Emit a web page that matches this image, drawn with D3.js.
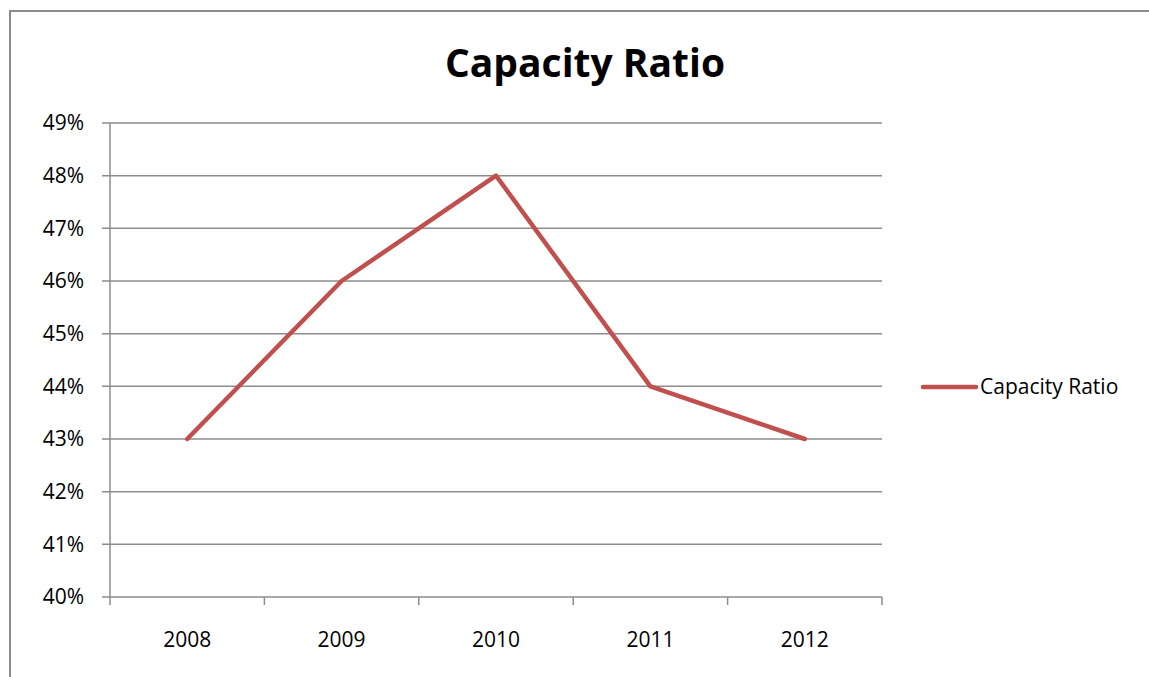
<!DOCTYPE html>
<html>
<head>
<meta charset="utf-8">
<script src="https://cdn.jsdelivr.net/npm/d3@7"></script>
<style>
  body { margin: 0; background: #fff; }
  svg { display: block; font-family: "Open Sans", "Noto Sans", sans-serif; }
</style>
</head>
<body>
<svg id="chart" width="1149" height="677"></svg>
<script>
var years = ["2008", "2009", "2010", "2011", "2012"];
var ratio = [0.43, 0.46, 0.48, 0.44, 0.43];
var yTicks = [0.40, 0.41, 0.42, 0.43, 0.44, 0.45, 0.46, 0.47, 0.48, 0.49];
var seriesName = "Capacity Ratio";
var title = "Capacity Ratio";

var svg = d3.select("#chart");

// outer chart border (only left/top visible in the frame)
svg.append("rect")
   .attr("x", 10).attr("y", 11)
   .attr("width", 1200).attr("height", 800)
   .attr("fill", "none")
   .attr("stroke", "#8c8c8c")
   .attr("stroke-width", 2);

var plotLeft = 110, plotRight = 882, plotTop = 123, plotBottom = 597;

var x = d3.scaleBand().domain(years).range([plotLeft, plotRight]);
var y = d3.scaleLinear().domain([0.40, 0.49]).range([plotBottom, plotTop]);

// gridlines
svg.append("g")
   .selectAll("line")
   .data(yTicks)
   .enter()
   .append("line")
   .attr("x1", plotLeft - 8).attr("x2", plotRight)
   .attr("y1", function(d) { return y(d); })
   .attr("y2", function(d) { return y(d); })
   .attr("stroke", "#8c8c8c")
   .attr("stroke-width", 1.5);

// y axis line
svg.append("line")
   .attr("x1", plotLeft).attr("x2", plotLeft)
   .attr("y1", plotTop).attr("y2", plotBottom)
   .attr("stroke", "#8c8c8c")
   .attr("stroke-width", 1.5);

// x tick marks at band boundaries
var bounds = years.map(function(d) { return x(d); }).concat([plotRight]);
svg.append("g")
   .selectAll("line")
   .data(bounds)
   .enter()
   .append("line")
   .attr("x1", function(d) { return d; })
   .attr("x2", function(d) { return d; })
   .attr("y1", plotBottom).attr("y2", plotBottom + 8)
   .attr("stroke", "#8c8c8c")
   .attr("stroke-width", 1.5);

// y labels
svg.append("g")
   .selectAll("text")
   .data(yTicks)
   .enter()
   .append("text")
   .attr("x", 84)
   .attr("y", function(d) { return y(d); })
   .attr("dy", "0.35em")
   .attr("text-anchor", "end")
   .attr("font-size", 21)
   .attr("fill", "#000")
   .text(function(d) { return Math.round(d * 100) + "%"; });

// x labels
svg.append("g")
   .selectAll("text")
   .data(years)
   .enter()
   .append("text")
   .attr("x", function(d) { return x(d) + x.bandwidth() / 2; })
   .attr("y", 647)
   .attr("text-anchor", "middle")
   .attr("font-size", 21)
   .attr("fill", "#000")
   .text(function(d) { return d; });

// series line
var makeLine = d3.line()
   .x(function(d, i) { return x(years[i]) + x.bandwidth() / 2; })
   .y(function(d) { return y(d); });

svg.append("path")
   .datum(ratio)
   .attr("fill", "none")
   .attr("stroke", "#c0504d")
   .attr("stroke-width", 4.5)
   .attr("stroke-linejoin", "round")
   .attr("stroke-linecap", "round")
   .attr("d", makeLine);

// title
svg.append("text")
   .attr("x", 585).attr("y", 77)
   .attr("text-anchor", "middle")
   .attr("font-size", 39)
   .attr("font-weight", "bold")
   .text(title);

// legend
svg.append("line")
   .attr("x1", 923).attr("x2", 976)
   .attr("y1", 387).attr("y2", 387)
   .attr("stroke", "#c0504d")
   .attr("stroke-width", 4.5)
   .attr("stroke-linecap", "round");

svg.append("text")
   .attr("x", 980).attr("y", 387)
   .attr("dy", "0.35em")
   .attr("font-size", 21)
   .text(seriesName);
</script>
</body>
</html>
